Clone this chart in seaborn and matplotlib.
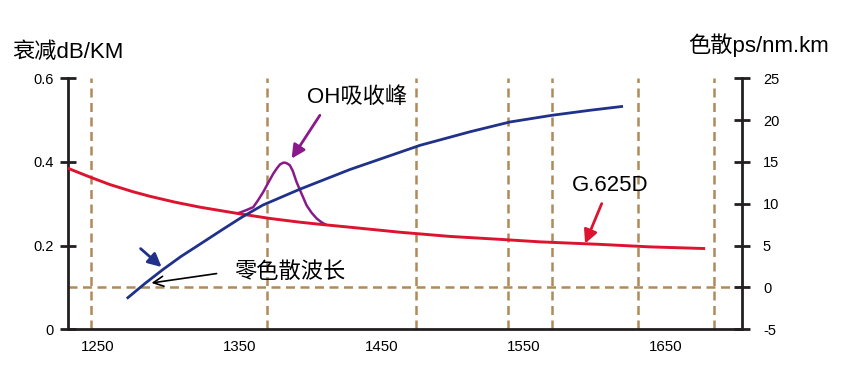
import numpy as np
import pandas as pd
from matplotlib import pyplot as plt
import matplotlib as mpl
import seaborn as sns

sns.set_theme(style='white')
plt.rcParams['font.family'] = ['Liberation Sans', 'Noto Sans CJK SC', 'DejaVu Sans']
plt.rcParams['axes.unicode_minus'] = False
plt.rcParams['text.color'] = 'black'

# 衰减曲线 (左轴)
atten_nm = [1228.9, 1244.4, 1258.5, 1274.6, 1286.6, 1304.2, 1321.8, 1335.9, 1350.0, 1371.1,
            1392.3, 1406.3, 1427.5, 1462.7, 1497.9, 1533.1, 1561.3, 1603.5, 1638.7, 1677.5]
atten_db = [0.385, 0.364, 0.346, 0.329, 0.318, 0.304, 0.292, 0.284, 0.276, 0.265,
            0.256, 0.251, 0.244, 0.232, 0.222, 0.215, 0.209, 0.203, 0.197, 0.193]
# OH吸收峰
oh_nm = [1347.9, 1350.0, 1354.6, 1359.4, 1362.7, 1366.4, 1369.9, 1373.5, 1376.1, 1378.2, 1380.3,
         1381.7, 1383.5, 1385.2, 1387.3, 1389.9, 1393.3, 1397.0, 1400.4, 1404.0, 1407.4, 1411.1]
oh_db = [0.277, 0.279, 0.285, 0.292, 0.308, 0.328, 0.350, 0.372, 0.385, 0.394, 0.398,
         0.3985, 0.396, 0.392, 0.378, 0.352, 0.325, 0.296, 0.279, 0.265, 0.256, 0.249]
# 色散曲线 (右轴)
disp_nm = [1270.4, 1283.0, 1295.8, 1308.5, 1321.8, 1338.0, 1351.4, 1366.2, 1392.3, 1427.5, 1476.8,
           1512.0, 1540.1, 1569.7, 1596.5, 1619.7]
disp_ps = [-1.33, 0.45, 2.14, 3.70, 5.16, 6.95, 8.40, 9.85, 11.75, 14.1, 16.99,
           18.61, 19.78, 20.58, 21.18, 21.65]

band_edges = [1245, 1369, 1474, 1539, 1570, 1630, 1684]
x_ticks = [1250, 1350, 1450, 1550, 1650]
left_ticks = [0, 0.2, 0.4, 0.6]
left_labels = ['0', '0.2', '0.4', '0.6']
right_ticks = [-5, 0, 5, 10, 15, 20, 25]

red = '#DC1430'
blue = '#20318A'
purple = '#8A1A8C'
tan = '#B08A5A'
dark = '#231F20'

df_att = pd.DataFrame({'nm': atten_nm, 'db': atten_db})
df_oh = pd.DataFrame({'nm': oh_nm, 'db': oh_db})
df_disp = pd.DataFrame({'nm': disp_nm, 'ps': disp_ps})

fig = plt.figure(figsize=(8.51, 3.68), dpi=100)
ax = fig.add_axes([0.0799, 0.1052, 0.872 - 0.0799, 0.7872 - 0.1052])
ax2 = ax.twinx()

# 虚线网格
for b in band_edges:
    ax.axvline(b, color=tan, lw=1.8, ls=(0, (3.6, 2.2)), zorder=1)
ax.axhline(0.1, color=tan, lw=1.8, ls=(0, (3.6, 2.2)), zorder=1)

kw = dict(estimator=None, sort=False, solid_joinstyle='round', solid_capstyle='butt')
sns.lineplot(data=df_att, x='nm', y='db', ax=ax, color=red, lw=2.1, zorder=3, **kw)
sns.lineplot(data=df_oh, x='nm', y='db', ax=ax, color=purple, lw=1.8, zorder=2, **kw)
sns.lineplot(data=df_disp, x='nm', y='ps', ax=ax2, color=blue, lw=2.0, zorder=3, **kw)

ax.set_xlim(1229, 1703.5)
ax.set_ylim(0, 0.6)
ax2.set_ylim(-5, 25)
ax.set_xlabel('')
ax.set_ylabel('')
ax2.set_ylabel('')
ax.set_xticks(x_ticks)
ax.set_yticks(left_ticks)
ax.set_yticklabels(left_labels)
ax2.set_yticks(right_ticks)

for s in ['top', 'right']:
    ax.spines[s].set_visible(False)
for s in ['top', 'left', 'bottom']:
    ax2.spines[s].set_visible(False)
for s in ['left', 'bottom']:
    ax.spines[s].set_color(dark)
    ax.spines[s].set_linewidth(2)
ax2.spines['right'].set_color(dark)
ax2.spines['right'].set_linewidth(2)

ax.tick_params(axis='y', direction='inout', length=11.5, width=2, color=dark, pad=4.3,
               labelsize=10.5, labelcolor='black', left=True)
ax.tick_params(axis='x', length=0, pad=7.5, labelsize=10.8, labelcolor='black')
ax2.tick_params(axis='y', direction='inout', length=12, width=2, color=dark, pad=9,
                labelsize=10.5, labelcolor='black', right=True)

# 标注
arr = dict(arrowstyle='-|>', lw=2, mutation_scale=20, shrinkA=0, shrinkB=0)
ax.annotate('', xy=(1386.4, 0.408), xytext=(1406.3, 0.5116),
            arrowprops=dict(color=purple, **arr))
ax.text(1432.6, 0.553, 'OH吸收峰', fontsize=16, ha='center', va='center')

ax.annotate('', xy=(1593.0, 0.2049), xytext=(1604.7, 0.3005),
            arrowprops=dict(color=red, **arr))
ax.text(1610.5, 0.3443, 'G.625D', fontsize=16, ha='center', va='center')

ax.annotate('', xy=(1287.8, 0.1107), xytext=(1333.6, 0.1332),
            arrowprops=dict(arrowstyle='->,head_length=0.6,head_width=0.3', color='black',
                            lw=1.2, mutation_scale=12, shrinkA=0, shrinkB=0))
ax.text(1385.2, 0.137, '零色散波长', fontsize=16, ha='center', va='center')

ax.annotate('', xy=(1294.9, 0.1489), xytext=(1280.1, 0.1929),
            arrowprops=dict(color=blue, **arr))

fig.text(12.7 / 851, 1 - 52 / 368, '衰减dB/KM', fontsize=16, ha='left', va='center')
fig.text(688 / 851, 1 - 45 / 368, '色散ps/nm.km', fontsize=16, ha='left', va='center')

plt.savefig('out.png', dpi=100)
